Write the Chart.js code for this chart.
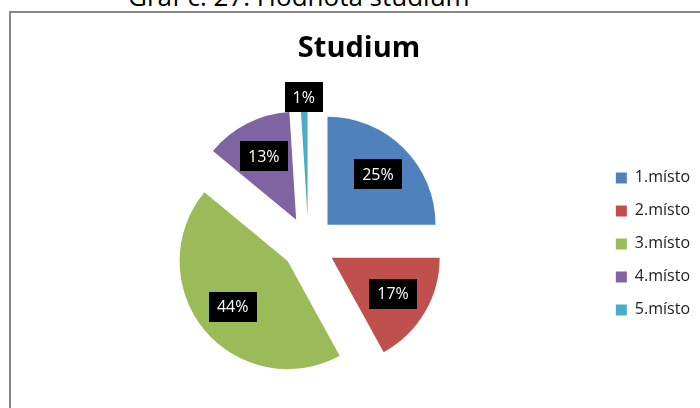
<!DOCTYPE html>
<html>
<head>
<meta charset="utf-8">
<script src="https://cdn.jsdelivr.net/npm/chart.js@4"></script>
<style>
    html, body { margin: 0; padding: 0; overflow: hidden; background: #fff; }
    #caption { position: absolute; left: 128px; top: -22px; font: 26px "Open Sans"; color: #000; white-space: nowrap; }
    #frame { position: absolute; left: 9px; top: 11px; width: 720px; height: 420px; border: 2px solid #878787; }
    #wrap { position: absolute; left: 0; top: 0; width: 700px; height: 408px; }
</style>
</head>
<body>
<div id="caption">Graf č. 27: Hodnota studium</div>
<div id="frame"></div>
<div id="wrap"><canvas id="studiumChart"></canvas></div>
<script>
const places = ["1.místo", "2.místo", "3.místo", "4.místo", "5.místo"];
const shares = [25, 17, 44, 13, 1];
const sliceColors = ["#4F81BD", "#C0504D", "#9BBB59", "#8064A2", "#4BACC6"];

const explodePx = 27;

// pull every slice out along its middle angle (like excel's exploded pie)
const explodePlugin = {
    id: "explode",
    beforeDatasetDraw(chart, args) {
        const ctx = chart.ctx;
        args.meta.data.forEach((arc) => {
            const { startAngle, endAngle } = arc.getProps(["startAngle", "endAngle"]);
            const mid = (startAngle + endAngle) / 2;
            ctx.save();
            ctx.translate(Math.cos(mid) * explodePx, Math.sin(mid) * explodePx);
            arc.draw(ctx);
            ctx.restore();
        });
        return false;
    },
};

// black boxes with the percentage
const boxLabels = {
    id: "boxLabels",
    afterDatasetsDraw(chart) {
        const ctx = chart.ctx;
        const meta = chart.getDatasetMeta(0);
        ctx.save();
        ctx.font = '16px "Open Sans"';
        ctx.textAlign = "center";
        ctx.textBaseline = "middle";
        meta.data.forEach((arc, i) => {
            const { x, y, startAngle, endAngle, outerRadius } = arc.getProps(["x", "y", "startAngle", "endAngle", "outerRadius"]);
            const mid = (startAngle + endAngle) / 2;
            const small = endAngle - startAngle < 0.3;
            const dist = explodePx + (small ? outerRadius + 12 : outerRadius * 0.66);
            const lx = x + Math.cos(mid) * dist;
            const ly = y + Math.sin(mid) * dist;
            const text = shares[i] + "%";
            const w = ctx.measureText(text).width + 16;
            const h = 30;
            ctx.fillStyle = "#000";
            ctx.fillRect(Math.round(lx - w / 2), Math.round(ly - h / 2), Math.round(w), h);
            ctx.fillStyle = "#fff";
            ctx.fillText(text, lx, ly + 1);
        });
        ctx.restore();
    },
};

new Chart(document.getElementById("studiumChart"), {
    type: "pie",
    data: {
        labels: places,
        datasets: [
            {
                data: shares,
                backgroundColor: sliceColors,
                borderWidth: 0,
            },
        ],
    },
    options: {
        responsive: true,
        maintainAspectRatio: false,
        animation: false,
        radius: 108,
        layout: { padding: { left: 18, top: 0, right: 0, bottom: 0 } },
        plugins: {
            title: {
                display: true,
                text: "Studium",
                color: "#000",
                font: { family: "Open Sans", size: 29, weight: "bold" },
                padding: { top: 31, bottom: 14 },
            },
            legend: {
                position: "right",
                fullSize: false,
                labels: {
                    boxWidth: 11,
                    boxHeight: 11,
                    padding: 17,
                    color: "#222",
                    font: { family: "Open Sans", size: 16 },
                },
            },
            tooltip: { enabled: false },
        },
    },
    plugins: [explodePlugin, boxLabels],
});
</script>
</body>
</html>
